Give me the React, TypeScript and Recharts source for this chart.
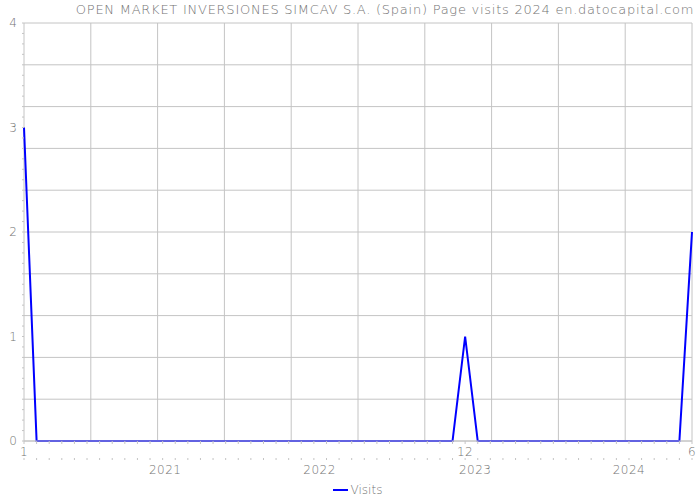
import React from 'react';
import { LineChart, Line, XAxis, YAxis, CartesianGrid, Legend } from 'recharts';

// monthly page visits, Jan 2020 .. Jun 2024
const visits = [
  3, 0, 0, 0, 0, 0, 0, 0, 0, 0, 0, 0,
  0, 0, 0, 0, 0, 0, 0, 0, 0, 0, 0, 0,
  0, 0, 0, 0, 0, 0, 0, 0, 0, 0, 0, 1,
  0, 0, 0, 0, 0, 0, 0, 0, 0, 0, 0, 0,
  0, 0, 0, 0, 0, 2,
];
const monthLabelIdx = [0, 35, 53];
const monthLabelText = ['1', '12', '6'];
const yearPos = [11.2, 23.45, 35.8, 48];
const yearText = ['2021', '2022', '2023', '2024'];
const yLabels = [0, 1, 2, 3, 4];
const gridY = [0, 0.4, 0.8, 1.2, 1.6, 2, 2.4, 2.8, 3.2, 3.6, 4];
const gridX = [0, 5.3, 10.6, 15.9, 21.2, 26.5, 31.8, 37.1, 42.4, 47.7];

const data = visits.map((v, i) => ({ i, visits: v }));
const monthTicks = visits.map((_, i) => i);
// minor marks on the value axis every 0.1
const minorY = Array.from({ length: 41 }, (_, k) => k / 10);

const FONT = '"DejaVu Sans", sans-serif';
const GREY = '#737373';
const LINE = '#c4c4c4';

function MonthTick(props: any) {
  const { x, y, payload } = props;
  const k = monthLabelIdx.indexOf(payload.value);
  return (
    <g>
      <line x1={x} x2={x} y1={y} y2={y + 3} stroke={LINE} />
      {k >= 0 && (
        <text x={x} y={y + 15} textAnchor="middle" fill={GREY} fontSize={12} fontFamily={FONT} fontWeight={200} letterSpacing={0.5}>
          {monthLabelText[k]}
        </text>
      )}
      <line x1={x} x2={x} y1={y + 17} y2={y + 19} stroke={LINE} />
    </g>
  );
}

function YearTick(props: any) {
  const { x, y, payload } = props;
  const k = yearPos.indexOf(payload.value);
  return (
    <text x={x} y={y + 13} textAnchor="middle" fill={GREY} fontSize={12} fontFamily={FONT} fontWeight={200} letterSpacing={0.5}>
      {yearText[k]}
    </text>
  );
}

function ValueTick(props: any) {
  const { x, y, payload } = props;
  const v = payload.value;
  const isLabel = yLabels.some((l) => Math.abs(l - v) < 1e-6);
  return (
    <g>
      <line x1={x - 2} x2={x} y1={y} y2={y} stroke={LINE} />
      {isLabel && (
        <text x={x - 7} y={y + 4} textAnchor="end" fill={GREY} fontSize={12} fontFamily={FONT} fontWeight={200}>
          {Math.round(v)}
        </text>
      )}
    </g>
  );
}

function Blank() {
  return <g />;
}

function LegendContent() {
  return (
    <div style={{ display: 'flex', justifyContent: 'center', alignItems: 'center', height: 21, fontFamily: FONT, fontWeight: 200, fontSize: 12, color: GREY }}>
      <span style={{ display: 'inline-block', width: 15, height: 2, background: '#0000ff', marginRight: 3 }} />
      <span>Visits</span>
    </div>
  );
}

export default function App() {
  return (
    <div style={{ position: 'absolute', left: 0, top: 0, width: 700, height: 500, background: '#fff' }}>
      <div style={{ position: 'absolute', left: 70, top: 2, width: 630, textAlign: 'center', fontFamily: FONT, fontWeight: 200, fontSize: 13, letterSpacing: 0.75, color: GREY, whiteSpace: 'nowrap' }}>
        OPEN MARKET INVERSIONES SIMCAV S.A. (Spain) Page visits 2024 en.datocapital.com
      </div>
      <LineChart width={700} height={500} data={data} margin={{ top: 23, right: 8, left: 23, bottom: 0 }}>
        <CartesianGrid stroke={LINE} xAxisId="grid" yAxisId="v" {...({ horizontalValues: gridY } as any)} />
        <XAxis
          xAxisId="grid"
          dataKey="i"
          type="number"
          domain={[0, 53]}
          ticks={gridX}
          interval={0}
          height={0}
          axisLine={false}
          tickLine={false}
          tick={Blank}
        />
        <XAxis
          xAxisId="m"
          dataKey="i"
          type="number"
          domain={[0, 53]}
          ticks={monthTicks}
          interval={0}
          height={20}
          tickSize={0}
          tickMargin={0}
          tickLine={false}
          axisLine={{ stroke: LINE }}
          tick={MonthTick}
        />
        <XAxis
          xAxisId="y"
          dataKey="i"
          type="number"
          domain={[0, 53]}
          ticks={yearPos}
          interval={0}
          height={18}
          tickSize={0}
          tickMargin={0}
          tickLine={false}
          axisLine={false}
          tick={YearTick}
        />
        <YAxis
          yAxisId="v"
          type="number"
          domain={[0, 4]}
          ticks={minorY}
          interval={0}
          width={1}
          tickSize={0}
          tickMargin={0}
          tickLine={false}
          axisLine={false}
          tick={ValueTick}
        />
        <Legend verticalAlign="bottom" content={LegendContent} wrapperStyle={{ height: 21 }} />
        <Line
          xAxisId="m"
          yAxisId="v"
          type="linear"
          dataKey="visits"
          name="Visits"
          stroke="#0000ff"
          strokeWidth={2}
          dot={false}
          activeDot={false}
          isAnimationActive={false}
        />
      </LineChart>
    </div>
  );
}
